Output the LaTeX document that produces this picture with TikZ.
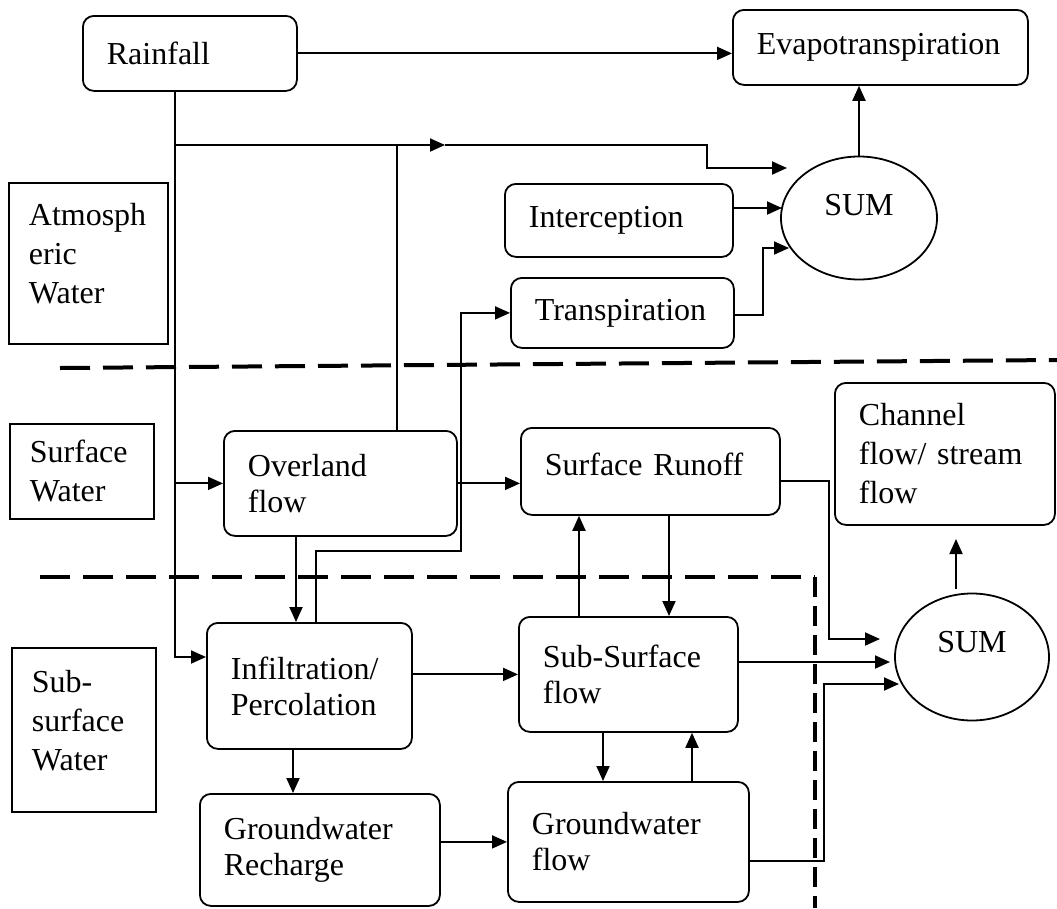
\documentclass[tikz,border=0pt]{standalone}
\usepackage{fontspec}
\setmainfont{Liberation Serif}
\usetikzlibrary{arrows.meta,shapes.geometric}
\begin{document}
\begin{tikzpicture}[x=1pt,y=-1pt,
  box/.style={draw, line width=1.8pt, rounded corners=11pt, inner xsep=24pt, inner ysep=0pt,
    align=left, anchor=north west, font=\fontsize{32}{36}\selectfont},
  lab/.style={draw, line width=1.8pt, inner xsep=20pt, inner ysep=0pt,
    align=left, anchor=north west, font=\fontsize{32}{39}\selectfont},
  sumnode/.style={draw, ellipse, line width=1.8pt, inner sep=0pt, text height=21pt,
    font=\fontsize{32}{36}\selectfont},
  con/.style={line width=1.9pt},
  arr/.style={con, -{Triangle[length=15pt,width=13pt]}},
  sep/.style={line width=4pt, dash pattern=on 30pt off 13pt},
]
\useasboundingbox (0,0) rectangle (1057,908);

% region labels
\node[lab, text width=119pt, minimum height=161pt, text depth=98pt] (atm) at (8,182) {Atmosph\\eric\\Water};
\node[lab, text width=104pt, minimum height=95pt] (surfw) at (9,423) {Surface\\Water};
\node[lab, text width=104pt, minimum height=164pt, text depth=98pt] (subw) at (11,647) {Sub-\\surface\\Water};

% process boxes
\node[box, text width=166pt, minimum height=75pt] (rain) at (82,15) {Rainfall};
\node[box, text width=247pt, minimum height=75pt] (evap) at (732,9) {Evapotranspiration};
\node[box, text width=180pt, minimum height=73pt] (icp) at (504,183) {Interception};
\node[box, text width=175pt, minimum height=70pt] (trn) at (510,277) {Transpiration};
\node[box, text width=185pt, minimum height=105pt] (ov) at (223,430) {Overland\\flow};
\node[box, text width=211pt, minimum height=87pt, text depth=14pt] (sr) at (520,427) {Surface Runoff};
\node[box, text width=172pt, minimum height=142pt, font=\fontsize{32}{39}\selectfont] (ch) at (834,382) {Channel\\flow/ stream\\flow};
\node[box, text width=157pt, minimum height=126pt] (inf) at (206,622) {Infiltration/\\Percolation};
\node[box, text width=171pt, minimum height=115pt] (sub) at (518,616) {Sub-Surface\\flow};
\node[box, text width=192pt, minimum height=112pt] (gwr) at (199,793) {Groundwater\\Recharge};
\node[box, text width=193pt, minimum height=120pt] (gwf) at (507,781) {Groundwater\\flow};

% sum nodes
\node[sumnode, minimum width=156pt, minimum height=123pt, text depth=26pt] (sum1) at (859,218) {SUM};
\node[sumnode, minimum width=154pt, minimum height=127pt, text depth=30pt] (sum2) at (972,657) {SUM};

% helper coordinates
\coordinate (j1) at (175,145);
\coordinate (j2) at (397,145);
\coordinate (m1) at (445,145);
\coordinate (j3) at (707,145);
\coordinate (e1) at (787,168);
\coordinate (j4) at (175,657);
\coordinate (e2) at (782,208);
\coordinate (t1) at (763,315);
\coordinate (t2) at (763,248);
\coordinate (e3) at (789,248);
\coordinate (f1) at (316,551);
\coordinate (f2) at (461,551);
\coordinate (a1) at (296,0);
\coordinate (a2) at (293,0);
\coordinate (a3) at (579,0);
\coordinate (a4) at (669,0);
\coordinate (a5) at (603,0);
\coordinate (a6) at (692,0);
\coordinate (s1) at (829,481);
\coordinate (s2) at (829,639);
\coordinate (e4) at (880,639);
\coordinate (e5) at (890,662);
\coordinate (g1) at (824,861);
\coordinate (g2) at (824,684);
\coordinate (e6) at (899,684);
\coordinate (c1) at (956,589);
\coordinate (c2) at (956,539);

% atmosphere part
\draw[arr] (rain.east) -- (rain.east -| evap.west);
\draw[arr] (rain.south -| j1) -- (j4) -- (j4 -| inf.west);
\draw[arr] (j1 |- ov.west) -- (ov.west);
\draw[arr] (j1) -- (m1);
\draw[arr] (m1) -- (j3) -- (j3 |- e1) -- (e1);
\draw[con] (ov.north -| j2) -- (j2);
\draw[arr] (icp.east |- e2) -- (e2);
\draw[arr] (trn.east |- t1) -- (t1) -- (t2) -- (e3);
\draw[arr] (sum1.north) -- (sum1.north |- evap.south);
\draw[arr] (inf.north -| f1) -- (f1) -- (f2) -- (f2 |- trn.west) -- (trn.west);

% surface / subsurface
\draw[arr] (ov.east) -- (ov.east -| sr.west);
\draw[arr] (ov.south -| a1) -- (inf.north -| a1);
\draw[arr] (inf.east |- sub.west) -- (sub.west);
\draw[arr] (inf.south -| a2) -- (gwr.north -| a2);
\draw[arr] (gwr.east |- gwf.west) -- (gwf.west);
\draw[arr] (sub.north -| a3) -- (sr.south -| a3);
\draw[arr] (sr.south -| a4) -- (sub.north -| a4);
\draw[arr] (sub.south -| a5) -- (gwf.north -| a5);
\draw[arr] (gwf.north -| a6) -- (sub.south -| a6);
\draw[arr] (sr.east |- s1) -- (s1) -- (s2) -- (e4);
\draw[arr] (sub.east |- e5) -- (e5);
\draw[arr] (gwf.east |- g1) -- (g1) -- (g2) -- (e6);
\draw[arr] (c1) -- (c2);

% separators
\draw[sep] (60,368) -- (1057,360);
\draw[sep] (40,577) -- (815,577);
\draw[sep, dash pattern=on 20pt off 9pt] (815,577) -- (815,908);
\end{tikzpicture}
\end{document}
